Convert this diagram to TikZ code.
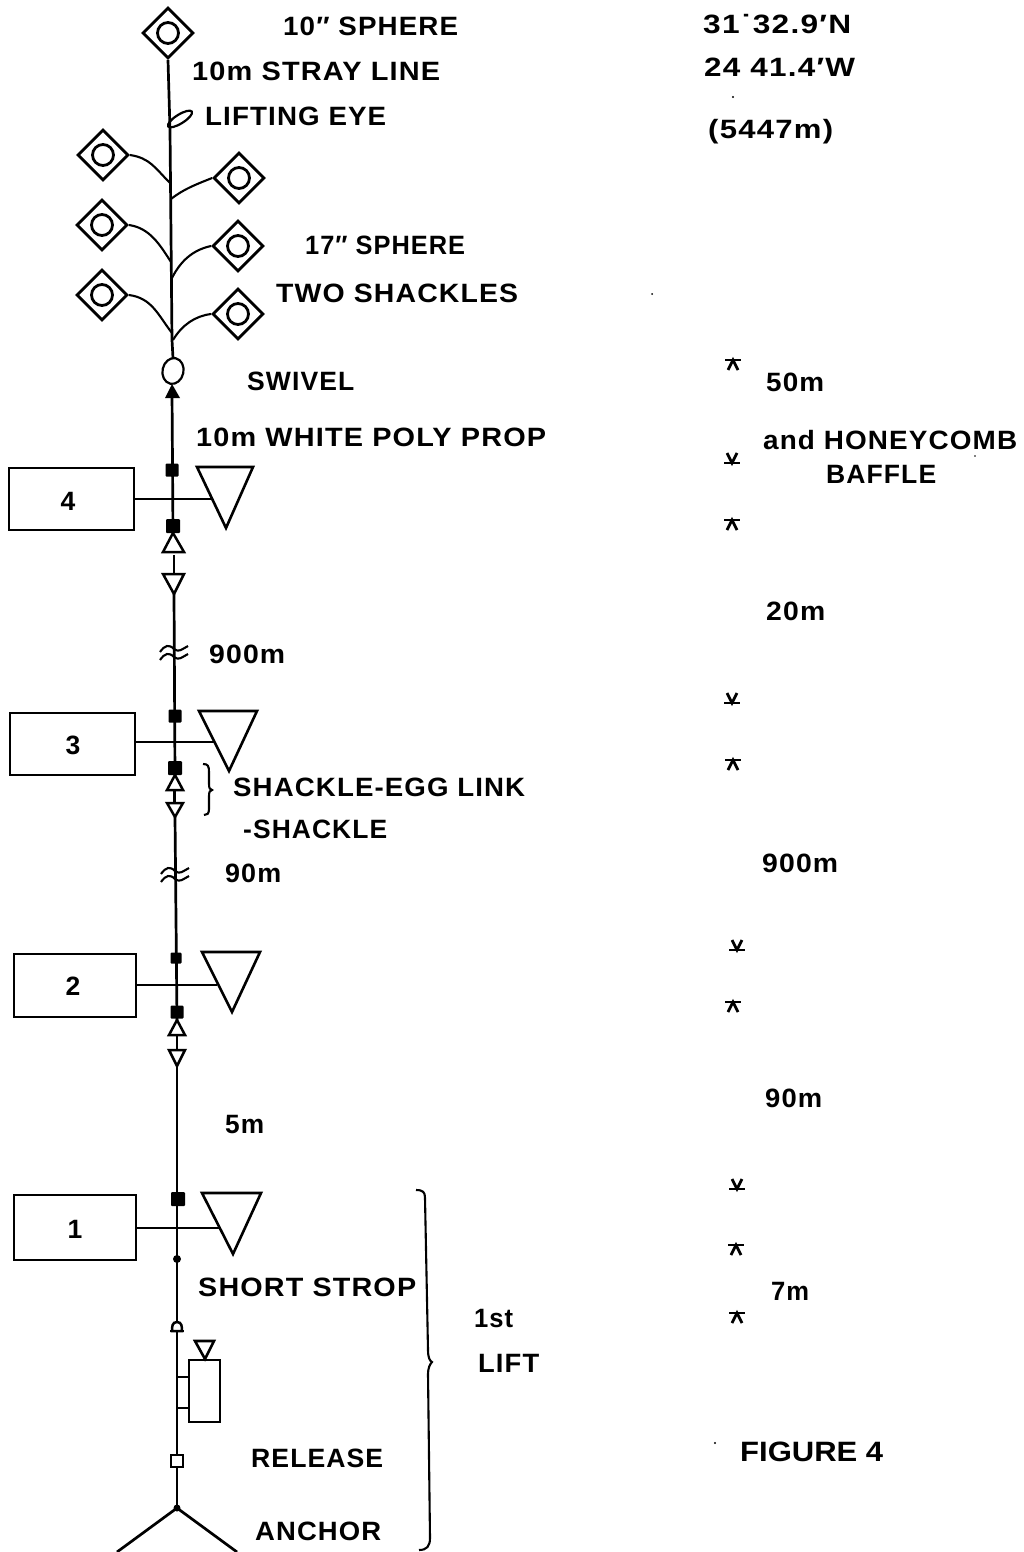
\documentclass[tikz,border=0pt]{standalone}
\usepackage{fontspec}
\usepackage{graphicx}
\setmainfont{Liberation Sans}[LetterSpace=4]
\newfontfamily\figfont{Liberation Sans}
\usetikzlibrary{shapes.geometric,calc}
\newcommand{\fitw}[2]{\resizebox{#1pt}{\height}{\bfseries #2}}
\newcommand{\wave}[1]{%
  \draw[thin2] ($(#1)+(-14,0)$) .. controls +(5,-7) and +(-5,-5) .. ($(#1)+(0,-3)$) .. controls +(5,4) and +(-6,3) .. ($(#1)+(14,-6)$);
  \draw[thin2] ($(#1)+(-14,8)$) .. controls +(5,-7) and +(-5,-5) .. ($(#1)+(0,5)$) .. controls +(5,4) and +(-6,3) .. ($(#1)+(14,2)$);}
\newcommand{\markup}[1]{%
  \draw[mk] ($(#1)+(-8,-5)$) -- ($(#1)+(8,-5)$);
  \draw[mk] ($(#1)+(-5,5)$) -- ($(#1)+(0,-5)$) -- ($(#1)+(5,5)$);}
\newcommand{\markdn}[1]{%
  \draw[mk] ($(#1)+(-8,5)$) -- ($(#1)+(8,5)$);
  \draw[mk] ($(#1)+(-5,-5)$) -- ($(#1)+(0,5)$) -- ($(#1)+(5,-5)$);}
\tikzset{
  x=1pt,y=-1pt,
  thin2/.style={line width=2.1pt,black},
  mk/.style={line width=2.8pt,black},
  trunk/.style={line width=2.7pt,black},
  lab/.style={anchor=base west,inner sep=0pt,font=\fontsize{26.5}{26.5}\selectfont},
  sphere/.style={diamond,draw,line width=2.8pt,minimum size=51pt,inner sep=0pt,fill=white},
  ball/.style={circle,draw,line width=2.8pt,minimum size=21pt,inner sep=0pt},
  shack/.style={rectangle,fill=black,minimum size=13pt,inner sep=0pt,rounded corners=1pt},
  instr/.style={rectangle,draw,line width=2.6pt,inner sep=0pt,fill=white},
  vane/.style={line width=2.6pt,join=miter,fill=white,draw=black},
  egg/.style={line width=2.5pt,draw=black,fill=white},
}
\begin{document}
\begin{tikzpicture}
\useasboundingbox (0,0) rectangle (1024,1552);
% trunk points
\coordinate (p0) at (169,60);
\coordinate (p1) at (170,130);
\coordinate (p2) at (172,340);
\coordinate (p3) at (173,358);
\coordinate (p4) at (172,392);
\coordinate (p5) at (173,533);
\coordinate (p6) at (174,555);
\coordinate (p7) at (174,574);
\coordinate (p8) at (174,594);
\coordinate (p9) at (175,775);
\coordinate (p10) at (175,790);
\coordinate (p11) at (175,803);
\coordinate (p12) at (175,817);
\coordinate (p13) at (177,1020);
\coordinate (p14) at (177,1050);
\coordinate (p15) at (177,1066);
\coordinate (p16) at (177,1508);
% spheres
\node[sphere] (s0) at (168,33) {}; \node[ball] at (s0) {};
\node[sphere] (l1) at (103,155) {}; \node[ball] at (l1) {};
\node[sphere] (l2) at (102,225) {}; \node[ball] at (l2) {};
\node[sphere] (l3) at (102,295) {}; \node[ball] at (l3) {};
\node[sphere] (r1) at (239,178) {}; \node[ball] at (r1) {};
\node[sphere] (r2) at (238,246) {}; \node[ball] at (r2) {};
\node[sphere] (r3) at (238,314) {}; \node[ball] at (r3) {};
% trunk
\draw[trunk] (s0.south) -- (p1) -- (p2) -- (p3);
\draw[trunk] (p4) -- (p5);
\draw[trunk] (p6) -- (p7);
\draw[trunk] (p8) -- (p9);
\draw[trunk] (p10) -- (p11);
\draw[trunk] (p12) -- (p13);
\draw[trunk] (p15) -- (p16);
\coordinate (j1) at (170,183); \coordinate (j2) at (171,199);
\coordinate (j3) at (171,262); \coordinate (j4) at (172,278);
\coordinate (j5) at (172,333); \coordinate (j6) at (173,340);
\draw[thin2] (l1.east) .. controls (150,158) and (155,168) .. (j1);
\draw[thin2] (r1.west) .. controls (200,183) and (185,188) .. (j2);
\draw[thin2] (l2.east) .. controls (150,228) and (160,245) .. (j3);
\draw[thin2] (r2.west) .. controls (192,250) and (180,262) .. (j4);
\draw[thin2] (l3.east) .. controls (152,298) and (158,315) .. (j5);
\draw[thin2] (r3.west) .. controls (195,316) and (182,325) .. (j6);
% lifting eye
\node[draw,ellipse,line width=2.2pt,minimum width=28pt,minimum height=9pt,inner sep=0pt,rotate=32] (eye) at (180,119) {};
% swivel
\node[draw,ellipse,line width=2.2pt,minimum width=21pt,minimum height=26pt,inner sep=0pt,rotate=-12] (sw) at (173,371) {};
\fill (172,384) -- (180,398) -- (165,398) -- cycle;
% instruments
\node[instr,minimum width=125pt,minimum height=62pt] (b4) at (71.5,499) {};
\node[instr,minimum width=125pt,minimum height=62pt] (b3) at (72.5,744) {};
\node[instr,minimum width=122pt,minimum height=63pt] (b2) at (75,985.5) {};
\node[instr,minimum width=122pt,minimum height=65pt] (b1) at (75,1227.5) {};
\coordinate (h4) at (211,499); \coordinate (h3) at (214,742);
\coordinate (h2) at (217,985); \coordinate (h1) at (219,1228);
\draw[thin2] (b4.east) -- (h4);
\draw[thin2] (b3.east |- h3) -- (h3);
\draw[thin2] (b2.east |- h2) -- (h2);
\draw[thin2] (b1.east |- h1) -- (h1);
\draw[vane] (197,467) -- (253,467) -- (226,528) -- cycle;
\draw[vane] (199,711) -- (257,711) -- (229,771) -- cycle;
\draw[vane] (202,952) -- (260,952) -- (232,1012) -- cycle;
\draw[vane] (202,1193) -- (261,1193) -- (233,1254) -- cycle;
% shackles
\node[shack] (q1) at (172,470) {};
\node[shack,minimum size=14pt] (q2) at (173,526) {};
\node[shack] (q3) at (175,716) {};
\node[shack,minimum size=14pt] (q4) at (175,768) {};
\node[shack,minimum size=11pt] (q5) at (176,958) {};
\node[shack] (q6) at (177,1012) {};
\node[shack,minimum size=14pt] (q7) at (178,1199) {};
\node[circle,fill=black,minimum size=8pt,inner sep=0pt] (q8) at (177,1259) {};
% egg links
\draw[egg] (p5) -- (184,552) -- (163,552) -- cycle;
\draw[egg] (163,574) -- (184,574) -- (p8) -- cycle;
\draw[egg] (p9) -- (183,790) -- (167,790) -- cycle;
\draw[egg] (167,803) -- (183,803) -- (p12) -- cycle;
\draw[egg] (p13) -- (185,1035) -- (169,1035) -- cycle;
\draw[egg] (169,1050) -- (185,1050) -- (p15) -- cycle;
\draw[trunk] (174,790) -- (174,803);
\draw[trunk] (177,1035) -- (177,1050);
% breaks
\coordinate (w1) at (174,652); \coordinate (w2) at (175,874);
\wave{w1} \wave{w2}
% small brace
\draw[thin2] (203,764) .. controls (208,764) and (209,766) .. (209,772) -- (209,784) .. controls (209,788) and (210,790) .. (212,790) .. controls (210,790) and (209,792) .. (209,796) -- (209,809) .. controls (209,814) and (207,815) .. (204,815);
% big brace
\draw[thin2] (416,1190) .. controls (423,1190) and (425,1192) .. (425,1198) -- (428,1350) .. controls (428,1358) and (430,1361) .. (432,1362) .. controls (430,1364) and (428,1368) .. (428,1374) -- (430,1538) .. controls (430,1546) and (427,1550) .. (419,1550);
% lower gear
\draw[egg] (177,1322) .. controls (172,1322) and (172,1327) .. (172,1331) -- (182,1331) .. controls (182,1327) and (182,1322) .. (177,1322) -- cycle;
\draw[trunk] (170,1331) -- (184,1331);
\node[instr,minimum width=31pt,minimum height=62pt] (rel) at (204.5,1391) {};
\draw[thin2] (177,1377) -- (189,1377);
\draw[thin2] (177,1408) -- (189,1408);
\draw[vane] (195,1341) -- (214,1341) -- (205,1359) -- cycle;
\node[draw,line width=2.6pt,fill=white,minimum size=12pt,inner sep=0pt] (relq) at (177,1461) {};
\draw[trunk] (117,1552) -- (p16) -- (237,1552);
\fill (p16) circle (3.5pt);
% marks
\coordinate (m1) at (733,365); \coordinate (m2) at (732,525); \coordinate (m3) at (733,765);
\coordinate (m4) at (733,1007); \coordinate (m5) at (736,1250); \coordinate (m6) at (737,1318);
\coordinate (n1) at (732,458); \coordinate (n2) at (732,698); \coordinate (n3) at (737,945); \coordinate (n4) at (737,1184);
\markup{m1} \markup{m2} \markup{m3} \markup{m4} \markup{m5} \markup{m6}
\markdn{n1} \markdn{n2} \markdn{n3} \markdn{n4}
% specks
\fill (733,97) circle (1.2pt); \fill (652,294) circle (1pt); \fill (975,456) circle (0.8pt); \fill (715,1443) circle (1.2pt);
% labels
\node[lab] (t1) at (283,36) {\fitw{175}{10″ SPHERE}};
\node[lab] (t2) at (703,34) {\fitw{148}{31˙32.9′N}};
\node[lab] (t3) at (704,77) {\fitw{151}{24 41.4′W}};
\node[lab] (t4) at (708,138) {\fitw{125}{(5447m)}};
\node[lab] (t5) at (192,81) {\fitw{248}{10m STRAY LINE}};
\node[lab] (t6) at (205,125) {\fitw{181}{LIFTING EYE}};
\node[lab] (t7) at (305,254) {\fitw{160}{17″ SPHERE}};
\node[lab] (t8) at (276,302) {\fitw{242}{TWO SHACKLES}};
\node[lab] (t9) at (247,390) {\fitw{107}{SWIVEL}};
\node[lab] (t10) at (196,446) {\fitw{350}{10m WHITE POLY PROP}};
\node[lab] (t11) at (766,391) {\fitw{58}{50m}};
\node[lab] (t12) at (763,449) {\fitw{254}{and HONEYCOMB}};
\node[lab] (t13) at (826,483) {\fitw{110}{BAFFLE}};
\node[lab] (t14) at (766,620) {\fitw{59}{20m}};
\node[lab] (t15) at (209,663) {\fitw{76}{900m}};
\node[lab] (t16) at (233,796) {\fitw{292}{SHACKLE-EGG LINK}};
\node[lab] (t17) at (243,838) {\fitw{144}{-SHACKLE}};
\node[lab] (t18) at (225,882) {\fitw{56}{90m}};
\node[lab] (t19) at (762,872) {\fitw{76}{900m}};
\node[lab] (t20) at (765,1107) {\fitw{57}{90m}};
\node[lab] (t21) at (225,1133) {\fitw{39}{5m}};
\node[lab] (t22) at (198,1296) {\fitw{218}{SHORT STROP}};
\node[lab] (t23) at (771,1300) {\fitw{38}{7m}};
\node[lab] (t24) at (474,1327) {\fitw{39}{1st}};
\node[lab] (t25) at (478,1372) {\fitw{61}{LIFT}};
\node[lab] (t26) at (251,1467) {\fitw{132}{RELEASE}};
\node[lab] (t27) at (255,1540) {\fitw{126}{ANCHOR}};
\node[lab,font=\fontsize{28}{28}\figfont] (t28) at (740,1461) {\fitw{143}{FIGURE 4}};
\node[font=\fontsize{26.5}{26.5}\selectfont\bfseries,inner sep=0pt] (d4) at (68,501) {4};
\node[font=\fontsize{26.5}{26.5}\selectfont\bfseries,inner sep=0pt] (d3) at (73,745) {3};
\node[font=\fontsize{26.5}{26.5}\selectfont\bfseries,inner sep=0pt] (d2) at (73,986) {2};
\node[font=\fontsize{26.5}{26.5}\selectfont\bfseries,inner sep=0pt] (d1) at (75,1229) {1};
\end{tikzpicture}
\end{document}
